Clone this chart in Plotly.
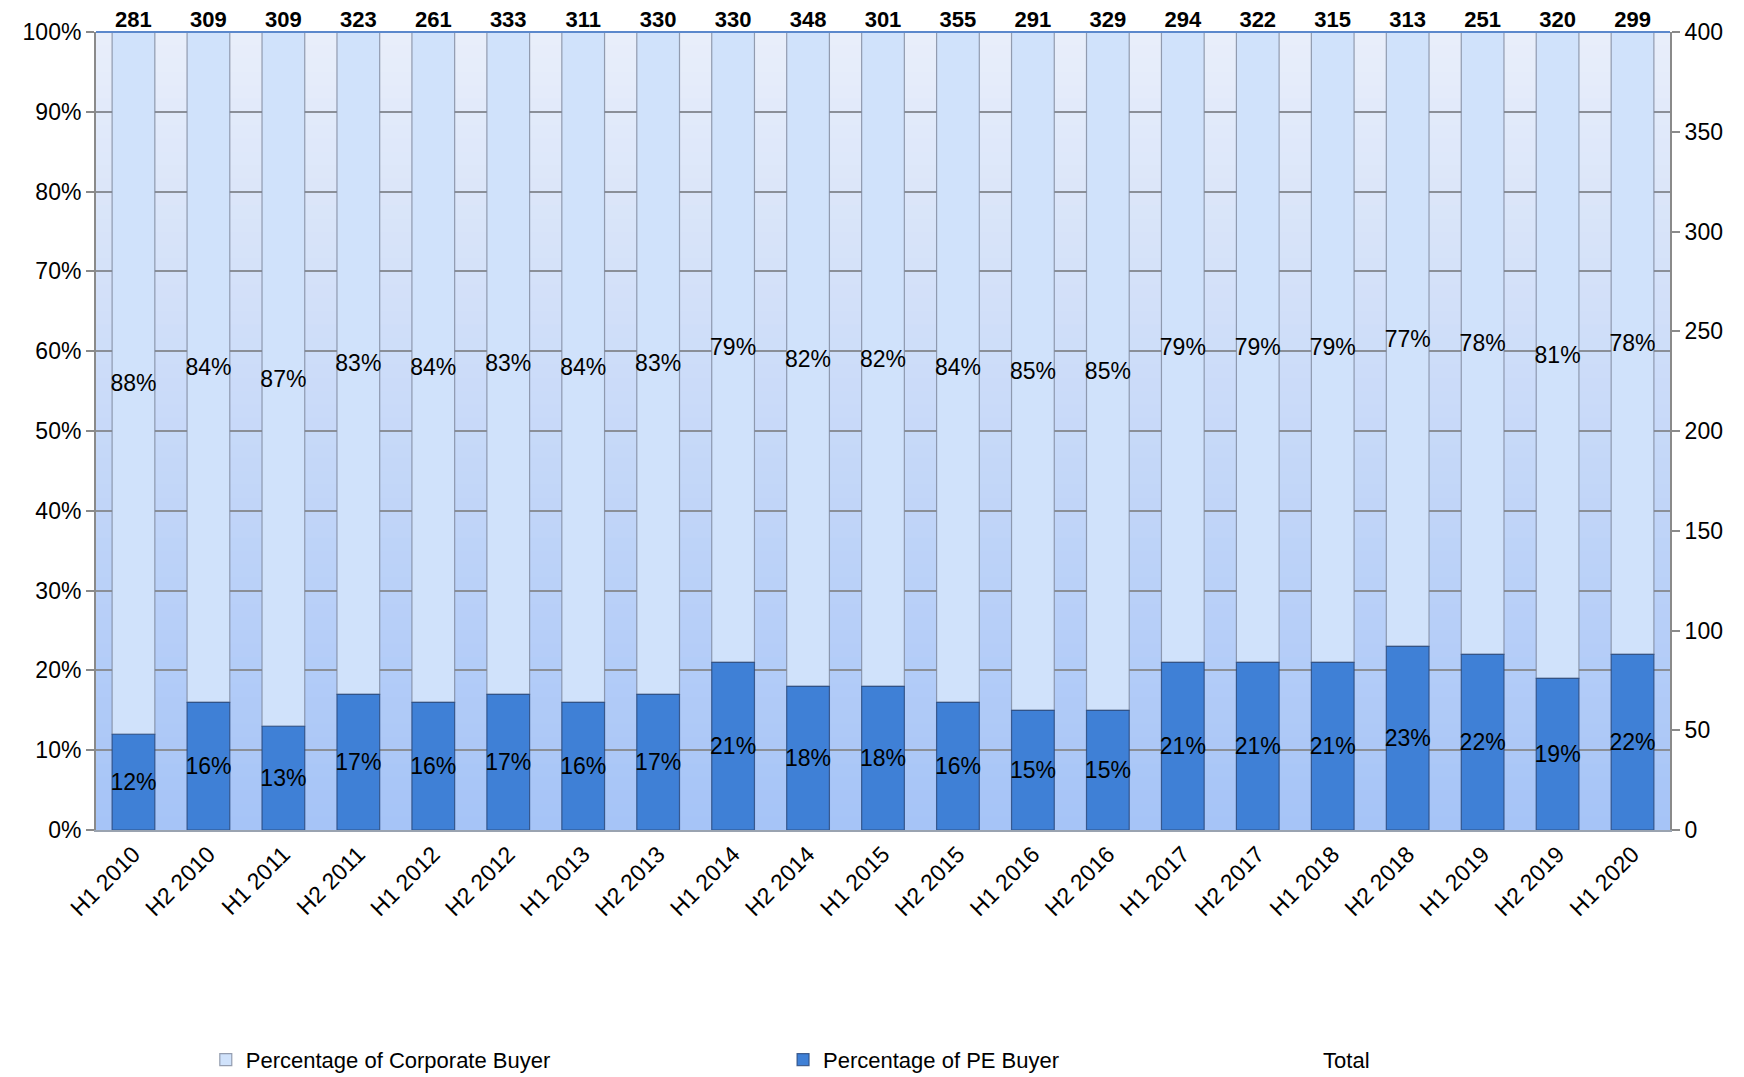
import plotly.graph_objects as go

# Half-year periods
periods = ["H1 2010", "H2 2010", "H1 2011", "H2 2011", "H1 2012", "H2 2012",
           "H1 2013", "H2 2013", "H1 2014", "H2 2014", "H1 2015", "H2 2015",
           "H1 2016", "H2 2016", "H1 2017", "H2 2017", "H1 2018", "H2 2018",
           "H1 2019", "H2 2019", "H1 2020"]

# Share of deals by buyer type (%)
pe_buyer_pct = [12, 16, 13, 17, 16, 17, 16, 17, 21, 18, 18, 16, 15, 15,
                21, 21, 21, 23, 22, 19, 22]
corporate_buyer_pct = [88, 84, 87, 83, 84, 83, 84, 83, 79, 82, 82, 84, 85, 85,
                       79, 79, 79, 77, 78, 81, 78]

# Total number of deals per period
total_deals = [281, 309, 309, 323, 261, 333, 311, 330, 330, 348, 301, 355,
               291, 329, 294, 322, 315, 313, 251, 320, 299]

left_ticks = [0, 10, 20, 30, 40, 50, 60, 70, 80, 90, 100]
right_ticks = [0, 50, 100, 150, 200, 250, 300, 350, 400]

FONT = "Liberation Sans, Arial, sans-serif"
TICK_SIZE = 23

fig = go.Figure()

fig.add_trace(go.Bar(
    name="Percentage of Corporate Buyer",
    x=periods,
    y=corporate_buyer_pct,
    base=pe_buyer_pct,
    text=[f"{v}%" for v in corporate_buyer_pct],
    textposition="inside",
    insidetextanchor="middle",
    textangle=0,
    constraintext="none",
    textfont=dict(family=FONT, size=23, color="black"),
    marker=dict(color="#d0e2fb", line=dict(color="rgba(120,130,150,0.75)", width=1.2)),
    width=0.57,
    legend="legend",
))

fig.add_trace(go.Bar(
    name="Percentage of PE Buyer",
    x=periods,
    y=pe_buyer_pct,
    text=[f"{v}%" for v in pe_buyer_pct],
    textposition="inside",
    insidetextanchor="middle",
    textangle=0,
    constraintext="none",
    textfont=dict(family=FONT, size=23, color="black"),
    marker=dict(color="#3f80d6", line=dict(color="rgba(40,70,120,0.8)", width=1.2)),
    width=0.57,
    legend="legend2",
))

# Totals shown as labels along the top edge of the secondary axis
fig.add_trace(go.Scatter(
    name="Total",
    x=periods,
    y=[400] * len(periods),
    yaxis="y2",
    mode="lines+text",
    line=dict(color="rgba(0,0,0,0)", width=0),
    text=[str(v) for v in total_deals],
    textposition="top center",
    textfont=dict(family=FONT, size=22, color="black", weight="bold"),
    cliponaxis=False,
    hoverinfo="skip",
    legend="legend3",
))

# Vertical gradient for the plotting area background (bands overlap slightly
# so no seams show between them)
shapes = []
n_bands = 60
top_rgb = (232, 238, 250)
bot_rgb = (166, 196, 247)
for i in range(n_bands):
    t = i / (n_bands - 1)
    r = round(top_rgb[0] + (bot_rgb[0] - top_rgb[0]) * t)
    g = round(top_rgb[1] + (bot_rgb[1] - top_rgb[1]) * t)
    b = round(top_rgb[2] + (bot_rgb[2] - top_rgb[2]) * t)
    y1 = 1 - i / n_bands
    y0 = max(0, 1 - (i + 1) / n_bands - 0.004)
    shapes.append(dict(type="rect", xref="paper", yref="paper", x0=0, x1=1,
                       y0=y0, y1=y1, fillcolor=f"rgb({r},{g},{b})",
                       line=dict(width=0), layer="below"))
# blue rule along the top of the plotting area
shapes.append(dict(type="line", xref="paper", yref="paper", x0=0, x1=1, y0=1, y1=1,
                   line=dict(color="#5b88cc", width=2), layer="above"))


def legend_box(x):
    return dict(
        orientation="h",
        xref="container", yref="container",
        x=x, xanchor="left",
        y=0.016, yanchor="middle",
        font=dict(family=FONT, size=22, color="black"),
        bgcolor="rgba(0,0,0,0)",
    )


fig.update_layout(
    width=1744, height=1077,
    margin=dict(l=96, r=74, t=32, b=247),
    barmode="overlay",
    paper_bgcolor="white",
    plot_bgcolor="rgba(0,0,0,0)",
    font=dict(family=FONT, size=22, color="black"),
    shapes=shapes,
    showlegend=True,
    legend=legend_box(0.118),
    legend2=legend_box(0.449),
    legend3=legend_box(0.7357),
    xaxis=dict(
        type="category",
        tickangle=-45,
        tickfont=dict(family=FONT, size=TICK_SIZE, color="black"),
        showgrid=False,
        showline=True, linecolor="#9aa3b0", linewidth=1.5,
        ticks="",
        range=[-0.5, len(periods) - 0.5],
    ),
    yaxis=dict(
        range=[0, 100],
        tickvals=left_ticks,
        ticktext=[f"{v}%" for v in left_ticks],
        tickfont=dict(family=FONT, size=TICK_SIZE, color="black"),
        showgrid=True, gridcolor="#8a8f98", gridwidth=1.5,
        showline=True, linecolor="#8a8a8a", linewidth=2,
        ticks="outside", ticklen=8, tickcolor="#8a8a8a", tickwidth=1.5,
        zeroline=False,
    ),
    yaxis2=dict(
        overlaying="y", side="right",
        range=[0, 400],
        tickvals=right_ticks,
        tickfont=dict(family=FONT, size=TICK_SIZE, color="black"),
        showgrid=False,
        showline=True, linecolor="#8a8a8a", linewidth=2,
        ticks="outside", ticklen=8, tickcolor="#8a8a8a", tickwidth=1.5,
        zeroline=False,
    ),
)

fig.write_html("out.html")
